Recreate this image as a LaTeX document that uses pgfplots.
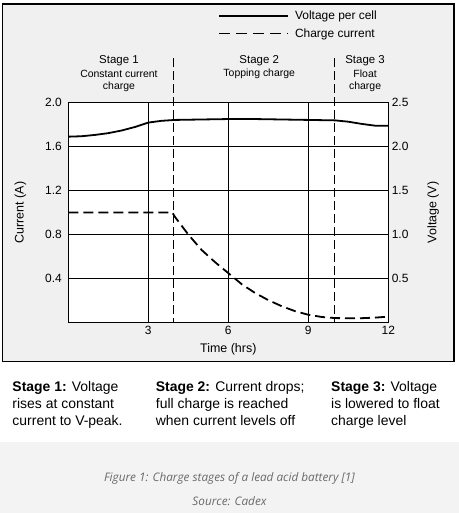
\documentclass[border=0pt]{standalone}
\usepackage{pgfplots}
\pgfplotsset{compat=1.18}
\usepackage{pgfplotstable}
\usepackage{fontspec}
\setmainfont{Liberation Sans}
\newfontfamily\capfont{Open Sans}
\definecolor{boxbg}{RGB}{240,240,240}
\definecolor{bandbg}{RGB}{243,243,243}
\definecolor{capgray}{RGB}{105,105,105}

\pgfplotstableread{
t I
0 1.0
3.9 1.0
4.0 0.96
4.25 0.88
4.5 0.80
4.75 0.73
5.0 0.66
5.5 0.55
6.0 0.45
6.5 0.35
7.0 0.27
7.5 0.205
8.0 0.15
8.5 0.105
9.0 0.072
9.5 0.052
10.0 0.042
10.5 0.040
11.0 0.041
11.5 0.046
12.0 0.055
}\currenttab

\pgfplotstableread{
t V
0 2.11
0.5 2.115
1.0 2.13
1.5 2.15
2.0 2.18
2.5 2.22
3.0 2.27
3.5 2.29
4.0 2.30
5.0 2.305
6.0 2.31
7.0 2.31
8.0 2.305
9.0 2.30
10.0 2.295
10.5 2.28
11.0 2.255
11.5 2.235
12.0 2.235
}\voltagetab

\begin{document}
\begin{tikzpicture}
\path[use as bounding box] (0,0) rectangle (459bp,513bp);
\fill[white] (0,0) rectangle (459bp,513bp);
\fill[bandbg] (0,0) rectangle (459bp,71.3bp);
\draw[line width=1.3bp, fill=boxbg] (2.7bp,151.3bp) rectangle (454bp,509bp);

\begin{axis}[
  at={(68.3bp,190.3bp)}, anchor=south west,
  scale only axis, width=320bp, height=220.4bp,
  xmin=0, xmax=12, ymin=0, ymax=2,
  axis background/.style={fill=white},
  xtick={3,6,9,12}, ytick={0.4,0.8,1.2,1.6,2.0},
  yticklabel style={/pgf/number format/fixed,/pgf/number format/fixed zerofill,/pgf/number format/precision=1, xshift=-3bp},
  major tick length=0,
  grid=major, grid style={black, line width=0.9bp},
  axis line style={line width=1.2bp},
  tick label style={font=\fontsize{12}{14}\selectfont},
  /pgf/number format/assume math mode=true,
  xlabel={Time (hrs)}, ylabel={Current (A)},
  label style={font=\fontsize{12.5}{15}\selectfont},
  xlabel style={at={(axis description cs:0.5,-0.1225)}, anchor=center},
  ylabel style={at={(axis description cs:-0.15,0.5)}, anchor=center},
  clip=false,
]
\addplot[line width=1.8bp, dash pattern=on 10bp off 5bp] table[x=t,y=I] {\currenttab};
\draw[line width=1bp, dash pattern=on 9bp off 4bp] (axis cs:3.93,2.40) -- (axis cs:3.93,0);
\draw[line width=1bp, dash pattern=on 9bp off 4bp] (axis cs:10.0,2.40) -- (axis cs:10.0,0);
\node[font=\fontsize{11.5}{13}\selectfont] at (axis cs:1.9,2.375) {Stage 1};
\node[font=\fontsize{10.5}{12}\selectfont] at (axis cs:1.9,2.257) {Constant current};
\node[font=\fontsize{10.5}{12}\selectfont] at (axis cs:1.9,2.142) {charge};
\node[font=\fontsize{11.5}{13}\selectfont] at (axis cs:7.16,2.375) {Stage 2};
\node[font=\fontsize{10.5}{12}\selectfont] at (axis cs:7.16,2.257) {Topping charge};
\node[font=\fontsize{11.5}{13}\selectfont] at (axis cs:11.13,2.375) {Stage 3};
\node[font=\fontsize{10.5}{12}\selectfont] at (axis cs:11.13,2.257) {Float};
\node[font=\fontsize{10.5}{12}\selectfont] at (axis cs:11.13,2.142) {charge};
\node[rotate=90, font=\fontsize{12.5}{15}\selectfont] at (axis description cs:1.14,0.5) {Voltage (V)};
\end{axis}

\begin{axis}[
  at={(68.3bp,190.3bp)}, anchor=south west,
  scale only axis, width=320bp, height=220.4bp,
  xmin=0, xmax=12, ymin=0, ymax=2.5,
  axis x line=none, axis y line*=right,
  ytick={0.5,1.0,1.5,2.0,2.5},
  yticklabel style={/pgf/number format/fixed,/pgf/number format/fixed zerofill,/pgf/number format/precision=1},
  major tick length=0,
  axis line style={line width=1.2bp},
  tick label style={font=\fontsize{12}{14}\selectfont},
  /pgf/number format/assume math mode=true,
  clip=false,
  legend image code/.code={\draw[#1] (0bp,0bp) -- (69bp,0bp);},
  legend style={at={(axis description cs:0.468,1.423)}, anchor=north west, draw=none, fill=none,
    font=\fontsize{12}{14}\selectfont, inner sep=0pt, row sep=3bp,
    nodes={inner sep=2bp},
    /tikz/every odd column/.append style={column sep=4bp}},
  legend cell align=left,
]
\addplot[line width=1.8bp] table[x=t,y=V] {\voltagetab};
\addlegendentry{Voltage per cell}
\addlegendimage{line width=1.6bp, dash pattern=on 11bp off 6bp}
\addlegendentry{Charge current}
\end{axis}

\node[anchor=base west, align=left, inner sep=0pt, font=\fontsize{14}{16.7}\selectfont] at (12.3bp,87.9bp) {\textbf{Stage 1:} Voltage\\rises at constant\\current to V-peak.};
\node[anchor=base west, align=left, inner sep=0pt, font=\fontsize{14}{16.7}\selectfont] at (155.7bp,87.9bp) {\textbf{Stage 2:} Current drops;\\full charge is reached\\when current levels off};
\node[anchor=base west, align=left, inner sep=0pt, font=\fontsize{14}{16.7}\selectfont] at (331bp,87.9bp) {\textbf{Stage 3:} Voltage\\is lowered to float\\charge level};

\node[anchor=base, font=\capfont\itshape\fontsize{11.8}{14}\selectfont, text=capgray] at (229.5bp,31.3bp) {Figure 1: Charge stages of a lead acid battery [1]};
\node[anchor=base, font=\capfont\itshape\fontsize{11.8}{14}\selectfont, text=capgray] at (229.5bp,7.3bp) {Source: Cadex};
\end{tikzpicture}
\end{document}
